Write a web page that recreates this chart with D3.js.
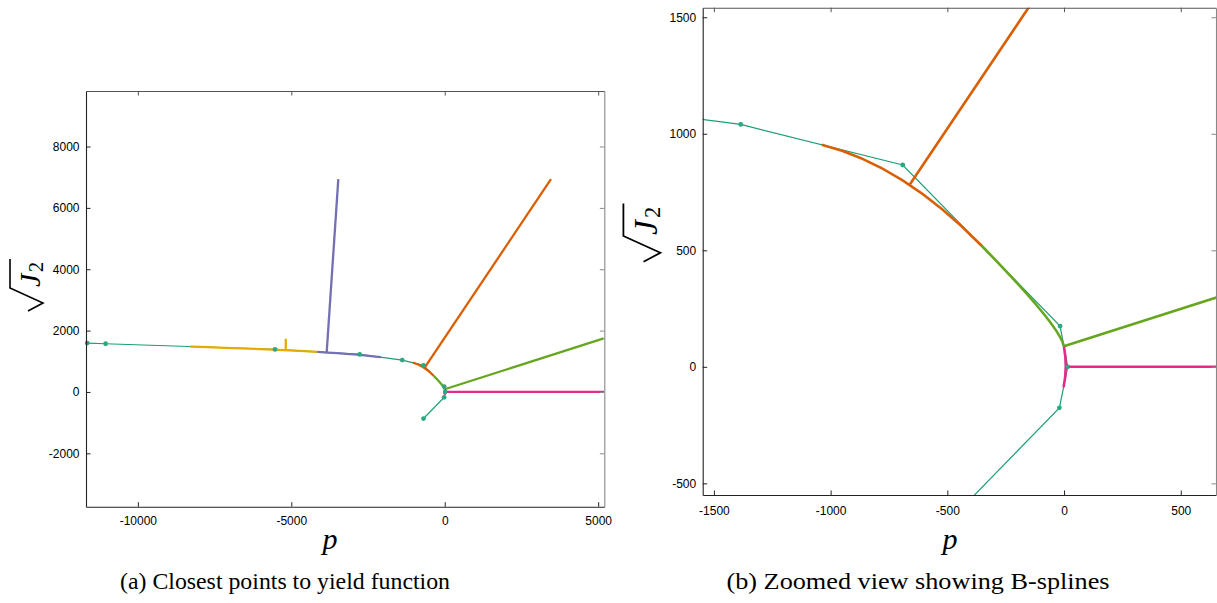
<!DOCTYPE html>
<html>
<head>
<meta charset="utf-8">
<script src="https://cdn.jsdelivr.net/npm/d3@7"></script>
<style>
  body { margin: 0; background: #fff; }
  svg { display: block; }
</style>
</head>
<body>
<div id="chart"></div>
<script>
// control polygon of the quadratic B-spline (p, sqrt(J2))
var ctrlP = [-11650, -11050, -5530, -2770, -1385, -691, -17, 16, -20, -691];
var ctrlQ = [1593, 1572, 1388, 1225, 1040, 866, 175, 0, -176, -866];

// spline spans holding a closest point, and the query -> closest point lines
var spanIdx = [1, 2, 4, 5, 6];
var spanColor = ["#e6ab02", "#7570b3", "#d95f02", "#66a61e", "#e7298a"];
var queryP = [-5180, -3468, 3462, 5180, 5200];
var queryQ = [1734, 6936, 6936, 1745, 0];
var footP = [-5180, -3846, -660, -1, 7];
var footQ = [1362, 1300, 783, 88, 0];

// axes
var leftXDomain = [-11690, 5200], leftYDomain = [-3740, 9810];
var leftXTicks = [-10000, -5000, 0, 5000];
var leftYTicks = [-2000, 0, 2000, 4000, 6000, 8000];
var rightXDomain = [-1548, 651], rightYDomain = [-550, 1541];
var rightXTicks = [-1500, -1000, -500, 0, 500];
var rightYTicks = [-500, 0, 500, 1000, 1500];

var svg = d3.select("#chart").append("svg")
    .attr("width", 1217)
    .attr("height", 603);

var tickFont = '"Liberation Sans", Arial, Helvetica, sans-serif';
var serif = '"Liberation Serif", "Times New Roman", Times, serif';
var fmt = function(d) { return String(d); };

function styleAxis(sel, stroke) {
  sel.attr("font-size", 12).attr("font-family", null).style("font-family", tickFont);
  sel.select(".domain").attr("stroke", stroke).attr("stroke-width", 1.1);
  sel.selectAll(".tick line").attr("stroke", stroke);
  sel.selectAll(".tick text").attr("fill", "#000");
}

function drawPanel(cfg) {
  var x = d3.scaleLinear().domain(cfg.xDomain).range(cfg.xRange);
  var y = d3.scaleLinear().domain(cfg.yDomain).range(cfg.yRange);
  var g = svg.append("g");

  g.append("clipPath").attr("id", "clip-" + cfg.name)
    .append("rect")
      .attr("x", cfg.xRange[0])
      .attr("y", cfg.yRange[1])
      .attr("width", cfg.xRange[1] - cfg.xRange[0])
      .attr("height", cfg.yRange[0] - cfg.yRange[1]);
  var plot = g.append("g").attr("clip-path", "url(#clip-" + cfg.name + ")");

  var ctrl = ctrlP.map(function(p, i) { return [x(p), y(ctrlQ[i])]; });

  // control polygon
  plot.append("path")
      .attr("d", d3.line()(ctrl))
      .attr("fill", "none")
      .attr("stroke", "#1b9e77")
      .attr("stroke-width", 1.2);

  // spline spans and closest point lines
  spanIdx.forEach(function(s, k) {
    var a = ctrl[s], b = ctrl[s + 1], c = ctrl[s + 2];
    var path = d3.path();
    path.moveTo((a[0] + b[0]) / 2, (a[1] + b[1]) / 2);
    path.quadraticCurveTo(b[0], b[1], (b[0] + c[0]) / 2, (b[1] + c[1]) / 2);
    plot.append("path")
        .attr("d", path.toString())
        .attr("fill", "none")
        .attr("stroke", spanColor[k])
        .attr("stroke-width", cfg.thick);
    plot.append("line")
        .attr("x1", x(queryP[k])).attr("y1", y(queryQ[k]))
        .attr("x2", x(footP[k])).attr("y2", y(footQ[k]))
        .attr("stroke", spanColor[k])
        .attr("stroke-width", cfg.thick);
  });

  // control points
  var inside = ctrlP.map(function(p, i) { return i; }).filter(function(i) {
    return ctrlP[i] >= cfg.xDomain[0] - 60 && ctrlP[i] <= cfg.xDomain[1] &&
           ctrlQ[i] >= cfg.yDomain[0] && ctrlQ[i] <= cfg.yDomain[1];
  });
  g.selectAll("circle.cp")
    .data(inside)
    .enter()
    .append("circle")
      .attr("class", "cp")
      .attr("cx", function(i) { return x(ctrlP[i]); })
      .attr("cy", function(i) { return y(ctrlQ[i]); })
      .attr("r", cfg.dot)
      .attr("fill", "#2aa883");

  // axes, ticks pointing inward
  g.append("g")
      .attr("transform", "translate(0," + cfg.yRange[0] + ")")
      .call(d3.axisBottom(x).tickValues(cfg.xTicks).tickFormat(fmt)
              .tickSize(-4.5).tickSizeOuter(0).tickPadding(cfg.xPad))
      .call(styleAxis, "#222");
  g.append("g")
      .attr("transform", "translate(0," + cfg.yRange[1] + ")")
      .call(d3.axisTop(x).tickValues(cfg.xTicks).tickFormat("")
              .tickSize(-4.5).tickSizeOuter(0))
      .call(styleAxis, "#555");
  g.append("g")
      .attr("transform", "translate(" + cfg.xRange[0] + ",0)")
      .call(d3.axisLeft(y).tickValues(cfg.yTicks).tickFormat(fmt)
              .tickSize(-4.5).tickSizeOuter(0).tickPadding(6.5))
      .call(styleAxis, "#222");
  g.append("g")
      .attr("transform", "translate(" + cfg.xRange[1] + ",0)")
      .call(d3.axisRight(y).tickValues(cfg.yTicks).tickFormat("")
              .tickSize(-4.5).tickSizeOuter(0))
      .call(styleAxis, "#888");

  // x label
  g.append("text")
      .attr("x", cfg.pLabel[0])
      .attr("y", cfg.pLabel[1])
      .attr("text-anchor", "middle")
      .style("font-family", serif)
      .style("font-style", "italic")
      .style("font-size", "30px")
      .text("p");

  // y label: sqrt(J_2)
  var lab = g.append("g")
      .attr("transform", "translate(" + cfg.jLabel[0] + "," + cfg.jLabel[1] + ") rotate(-90) scale(" + cfg.jScale + ")");
  lab.append("path")
      .attr("d", "M-23,-12L-15,3L0,-30L29,-30")
      .attr("fill", "none")
      .attr("stroke", "#000")
      .attr("stroke-width", 1.6);
  lab.append("text")
      .attr("x", 1).attr("y", 0)
      .style("font-family", serif)
      .style("font-style", "italic")
      .style("font-size", "30px")
      .text("J");
  lab.append("text")
      .attr("x", 16).attr("y", 3)
      .style("font-family", serif)
      .style("font-size", "20px")
      .text("2");

  // caption
  g.append("text")
      .attr("x", cfg.caption[0])
      .attr("y", cfg.caption[1])
      .attr("text-anchor", "middle")
      .style("font-family", serif)
      .style("font-size", "24px")
      .attr("textLength", cfg.captionWidth)
      .attr("lengthAdjust", "spacingAndGlyphs")
      .text(cfg.captionText);
}

drawPanel({
  name: "a",
  xDomain: leftXDomain, yDomain: leftYDomain,
  xRange: [86, 604.3], yRange: [506.7, 91],
  xTicks: leftXTicks, yTicks: leftYTicks,
  xPad: 10, thick: 2.3, dot: 2.4,
  pLabel: [330, 549], jLabel: [40, 288], jScale: 1,
  caption: [285, 589], captionWidth: 330,
  captionText: "(a) Closest points to yield function"
});

drawPanel({
  name: "b",
  xDomain: rightXDomain, yDomain: rightYDomain,
  xRange: [702.7, 1216], yRange: [495, 7.7],
  xTicks: rightXTicks, yTicks: rightYTicks,
  xPad: 11, thick: 2.6, dot: 2.4,
  pLabel: [950, 549], jLabel: [657, 236], jScale: 1.12,
  caption: [918, 589], captionWidth: 383,
  captionText: "(b) Zoomed view showing B-splines"
});
</script>
</body>
</html>
